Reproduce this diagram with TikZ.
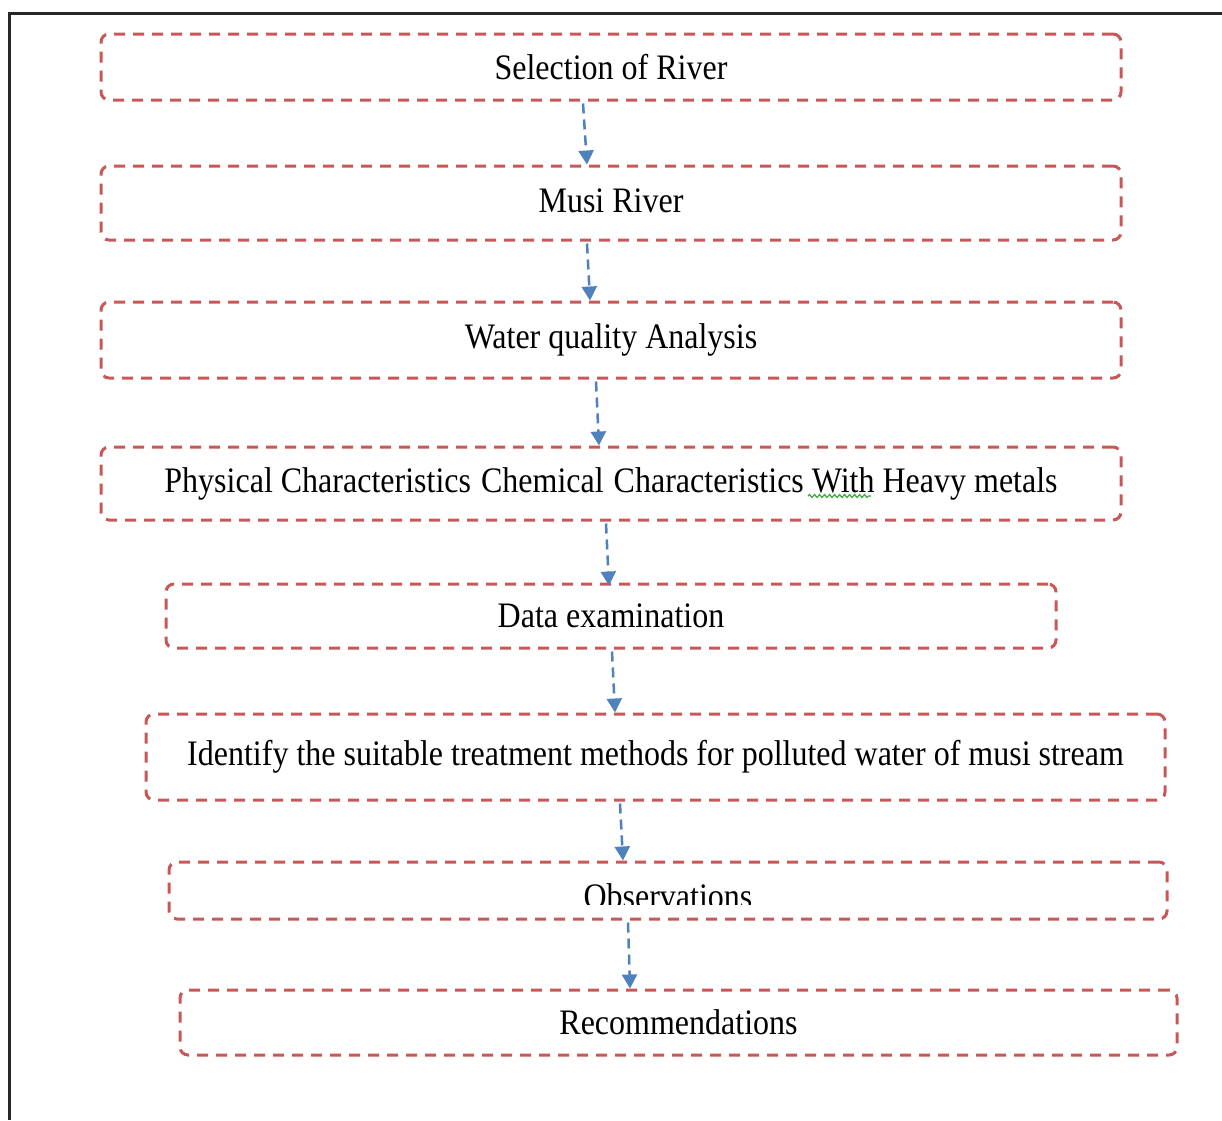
\documentclass[tikz,border=0pt]{standalone}
\usepackage{fontspec}
\setmainfont{Liberation Serif}
\usetikzlibrary{arrows.meta,decorations.pathmorphing}
\definecolor{boxred}{RGB}{200,88,88}
\definecolor{arrowblue}{RGB}{79,129,189}
\definecolor{framegray}{RGB}{40,40,40}
\definecolor{squiggle}{RGB}{60,170,60}
\tikzset{
  stepbox/.style={draw=boxred, line width=3pt, dash pattern=on 11pt off 8pt,
    rounded corners=8pt, inner sep=0pt, font=\fontsize{32}{38}\selectfont},
  flowarrow/.style={draw=arrowblue, line width=2.5pt, dash pattern=on 10pt off 6pt,
    -{Triangle[width=15pt,length=14pt,fill=arrowblue]}},
  plaintext/.style={inner sep=0pt, font=\fontsize{32}{38}\selectfont},
}
\newcommand{\tall}[1]{\scalebox{1}[1.12]{#1}}
\begin{document}
\begin{tikzpicture}[x=1pt,y=-1pt]
\useasboundingbox (0,0) rectangle (1222,1120);
\fill[white] (0,0) rectangle (1222,1120);
% outer frame (top and left only visible)
\draw[framegray, line width=3pt] (1222,13) -- (9,13) -- (9,1120);

\node[stepbox, minimum width=1020pt, minimum height=66pt] (n1) at (611,67) {\tall{Selection of River}};
\node[stepbox, minimum width=1020pt, minimum height=74pt] (n2) at (611,203) {\raisebox{4pt}{\tall{Musi River}}};
\node[stepbox, minimum width=1020pt, minimum height=76pt] (n3) at (611,340) {\raisebox{2pt}{\tall{Water quality Analysis}}};
\node[stepbox, minimum width=1020pt, minimum height=73pt] (n4) at (611,483.5) {\raisebox{2pt}{\tall{Physical Characteristics\hspace{2pt} Chemical\hspace{2pt} Characteristics With Heavy metals}}};
\node[stepbox, minimum width=890pt, minimum height=64pt] (n5) at (611,616) {\tall{Data examination}};
\node[stepbox, minimum width=1019pt, minimum height=86pt] (n6) at (655.5,757) {\raisebox{4pt}{\tall{Identify the suitable treatment methods for polluted water of musi stream}}};
\node[stepbox, minimum width=998pt, minimum height=57pt] (n7) at (668,890.5) {};
\begin{scope}
  \clip (200,860) rectangle (1100,904);
  \node[plaintext] (obs) at (668,896) {\tall{Observations}};
\end{scope}
\node[stepbox, minimum width=997pt, minimum height=65pt] (n8) at (678.5,1022.5) {\tall{Recommendations}};

% spell-check squiggle under "With"
\draw[squiggle, line width=1.2pt, decorate, decoration={snake, segment length=5pt, amplitude=1.5pt}] (808,496) -- (871,496);

\draw[flowarrow] ([xshift=-28pt,yshift=-2pt]n1.south) -- ([xshift=-24pt]n2.north);
\draw[flowarrow] ([xshift=-24pt,yshift=-2pt]n2.south) -- ([xshift=-21pt]n3.north);
\draw[flowarrow] ([xshift=-15pt,yshift=-2pt]n3.south) -- ([xshift=-12pt]n4.north);
\draw[flowarrow] ([xshift=-5pt,yshift=-2pt]n4.south) -- ([xshift=-2pt,yshift=-3pt]n5.north);
\draw[flowarrow] ([xshift=1pt,yshift=-2pt]n5.south) -- ([xshift=-40.5pt]n6.north);
\draw[flowarrow] ([xshift=-35.5pt,yshift=-2pt]n6.south) -- ([xshift=-45pt]n7.north);
\draw[flowarrow] ([xshift=-40pt,yshift=-2pt]n7.south) -- ([xshift=-48.5pt]n8.north);
\end{tikzpicture}
\end{document}
